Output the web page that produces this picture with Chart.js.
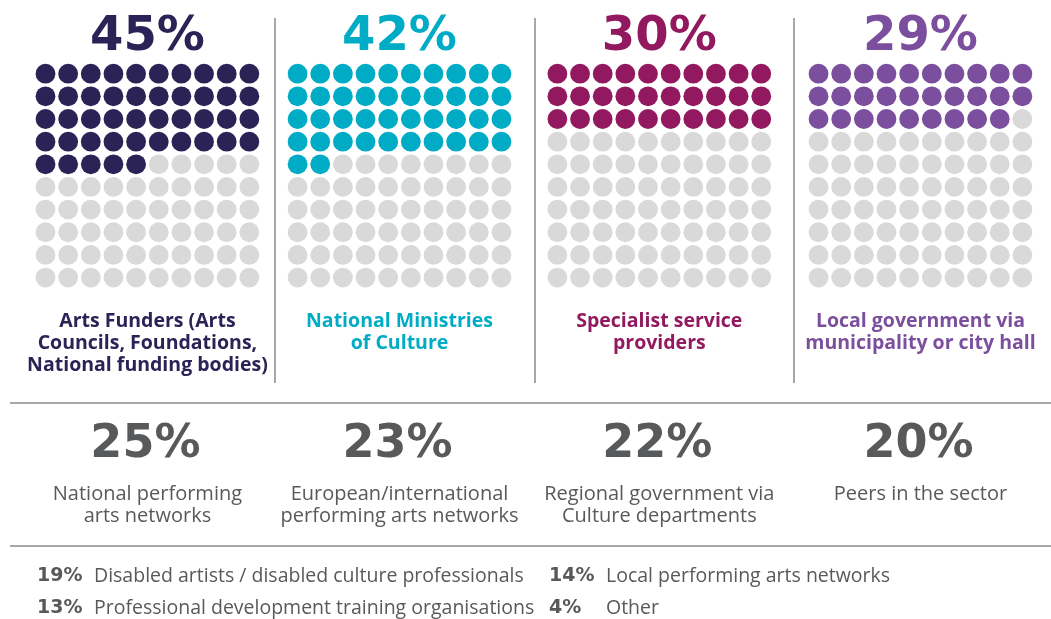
<!DOCTYPE html>
<html>
<head>
<meta charset="utf-8">
<script src="https://cdn.jsdelivr.net/npm/chart.js@4/dist/chart.umd.min.js"></script>
<style>
  html, body { margin: 0; padding: 0; background: #ffffff; }
  #wrap { width: 1051px; height: 619px; }
</style>
</head>
<body>
<div id="wrap"><canvas id="waffleChart" width="1051" height="619"></canvas></div>
<script>
// top row: waffle panels
const topLabels = [
    ["Arts Funders (Arts", "Councils, Foundations,", "National funding bodies)"],
    ["National Ministries", "of Culture"],
    ["Specialist service", "providers"],
    ["Local government via", "municipality or city hall"]
];
const topValues = [45, 42, 30, 29];
const topColors = ['#2b2356', '#00acc5', '#92195f', '#7b4f9e'];

// middle row: big numbers only
const midLabels = [
    ["National performing", "arts networks"],
    ["European/international", "performing arts networks"],
    ["Regional government via", "Culture departments"],
    ["Peers in the sector"]
];
const midValues = [25, 23, 22, 20];

// bottom list
const listLabels = [
    "Disabled artists / disabled culture professionals",
    "Local performing arts networks",
    "Professional development training organisations",
    "Other"
];
const listValues = [19, 14, 13, 4];

const EMPTY = '#d9d9d9';
const TEXT_GREY = '#58595b';
const RULE = '#8a8a8a';

// x offset of each 10x10 grid, in dot units
const panelOffset = [0, 11.13, 22.6, 34.13];

function dots(panel, from, to) {
    let pts = [];
    for (let k = from; k < to; k++) {
        pts.push({ x: panelOffset[panel] + (k % 10), y: Math.floor(k / 10) });
    }
    return pts;
}

const datasets = [];
topValues.forEach((v, i) => {
    datasets.push({ data: dots(i, 0, v), backgroundColor: topColors[i], pointRadius: 9.9, borderWidth: 0, clip: false });
    datasets.push({ data: dots(i, v, 100), backgroundColor: EMPTY, pointRadius: 9.9, borderWidth: 0, clip: false });
});

const STEP = 22.65;

const textPlugin = {
    id: 'textPlugin',
    afterDraw(chart) {
        const ctx = chart.ctx;
        const xs = chart.scales.x;
        ctx.save();

        // separators
        ctx.strokeStyle = RULE;
        ctx.lineWidth = 1.5;
        [275, 535, 794].forEach(x => {
            ctx.beginPath(); ctx.moveTo(x, 18); ctx.lineTo(x, 383); ctx.stroke();
        });
        [403, 546].forEach(y => {
            ctx.beginPath(); ctx.moveTo(10, y); ctx.lineTo(1051, y); ctx.stroke();
        });

        ctx.textAlign = 'center';
        ctx.textBaseline = 'middle';

        topValues.forEach((v, i) => {
            const cx = xs.getPixelForValue(panelOffset[i] + 4.5);
            ctx.fillStyle = topColors[i];
            ctx.font = 'bold 48px "DejaVu Sans"';
            ctx.fillText(v + '%', cx, 38);
            ctx.font = 'bold 19.5px "Open Sans"';
            topLabels[i].forEach((line, j) => ctx.fillText(line, cx, 321 + j * 22));
        });

        midValues.forEach((v, i) => {
            const cx = xs.getPixelForValue(panelOffset[i] + 4.5);
            ctx.fillStyle = TEXT_GREY;
            ctx.font = 'bold 46px "DejaVu Sans"';
            ctx.fillText(v + '%', cx - 2, 445);
            ctx.font = '20px "Open Sans"';
            midLabels[i].forEach((line, j) => ctx.fillText(line, cx, 494 + j * 22));
        });

        ctx.textAlign = 'left';
        ctx.fillStyle = TEXT_GREY;
        listValues.forEach((v, i) => {
            const x = i % 2 === 0 ? 37 : 549;
            const y = 576 + Math.floor(i / 2) * 32;
            ctx.font = 'bold 19px "DejaVu Sans"';
            ctx.fillText(v + '%', x, y);
            ctx.font = '19.5px "Open Sans"';
            ctx.fillText(listLabels[i], x + 57, y);
        });

        ctx.restore();
    }
};

const chart = new Chart(document.getElementById('waffleChart').getContext('2d'), {
    type: 'scatter',
    data: { datasets: datasets },
    options: {
        responsive: false,
        animation: false,
        events: [],
        layout: { padding: 0, autoPadding: false },
        plugins: { legend: { display: false }, tooltip: { enabled: false } },
        scales: {
            x: { type: 'linear', display: false, min: -45.5 / STEP, max: -45.5 / STEP + 1051 / STEP },
            y: { type: 'linear', display: false, reverse: true, min: -73.7 / STEP, max: -73.7 / STEP + 619 / STEP }
        }
    },
    plugins: [textPlugin]
});
</script>
</body>
</html>
